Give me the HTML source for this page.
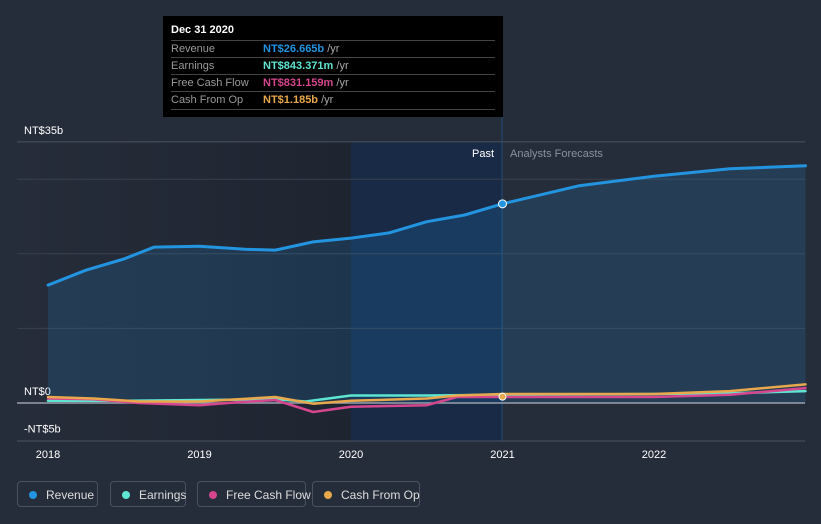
<!DOCTYPE html>
<html><head><meta charset="utf-8"><style>
body{margin:0;background:#262d3a;font-family:"Liberation Sans",sans-serif;}
#wrap{position:relative;width:821px;height:524px;overflow:hidden;}
.tt{position:absolute;left:163px;top:16px;width:340px;height:101px;background:#000;color:#fff;font-size:11px;}
.tt .r{position:absolute;left:8px;width:324px;border-top:1px solid #444;height:17px;line-height:17px;color:#999;}
.tt .v{position:absolute;left:92px;font-weight:bold;}
.lg{position:absolute;top:481px;height:26px;border:1px solid #4a5261;border-radius:4px;color:#ddd;font-size:12px;line-height:26px;box-sizing:border-box;padding-left:28px;white-space:nowrap;}
.lg i{position:absolute;left:11px;top:9px;width:8px;height:8px;border-radius:50%;}
</style></head><body>
<div id="wrap">
<svg id="svg" width="821" height="524" style="position:absolute;left:0;top:0"></svg>
<div class="tt">
<div style="position:absolute;left:8px;top:8px;font-weight:bold;font-size:11px">Dec 31 2020</div>
<div class="r" style="top:24px">Revenue<span class="v" style="color:#2394e0">NT$26.665b <span style="color:#aaa;font-weight:normal">/yr</span></span></div>
<div class="r" style="top:41px">Earnings<span class="v" style="color:#5ee6d2">NT$843.371m <span style="color:#aaa;font-weight:normal">/yr</span></span></div>
<div class="r" style="top:58px">Free Cash Flow<span class="v" style="color:#d5468e">NT$831.159m <span style="color:#aaa;font-weight:normal">/yr</span></span></div>
<div class="r" style="top:75px;border-bottom:1px solid #444">Cash From Op<span class="v" style="color:#e8a84b">NT$1.185b <span style="color:#aaa;font-weight:normal">/yr</span></span></div>
</div>
<div class="lg" style="left:17px;width:81px"><i style="background:#2394e0"></i>Revenue</div>
<div class="lg" style="left:110px;width:76px"><i style="background:#5ee6d2"></i>Earnings</div>
<div class="lg" style="left:197px;width:109px"><i style="background:#d5468e"></i>Free Cash Flow</div>
<div class="lg" style="left:312px;width:108px"><i style="background:#e8a84b"></i>Cash From Op</div>
</div>
<script>
const revT=[2018,2018.25,2018.5,2018.7,2019,2019.3,2019.5,2019.75,2020,2020.25,2020.5,2020.75,2021,2021.5,2022,2022.5,2023];
const revV=[15.8,17.8,19.3,20.9,21.0,20.6,20.5,21.6,22.1,22.8,24.3,25.2,26.7,29.1,30.4,31.4,31.8];
const earnT=[2018,2018.5,2019,2019.5,2019.7,2020,2020.5,2021,2022,2022.5,2023];
const earnV=[0.3,0.3,0.4,0.5,0.2,1.0,1.0,1.1,1.2,1.3,1.6];
const fcfT=[2018,2018.3,2018.6,2019,2019.25,2019.5,2019.75,2020,2020.5,2020.7,2021,2022,2022.5,2023];
const fcfV=[0.6,0.5,0.0,-0.3,0.1,0.4,-1.2,-0.5,-0.3,0.8,0.8,0.8,1.1,2.0];
const cfoT=[2018,2018.3,2018.6,2019,2019.5,2019.75,2020,2020.5,2020.7,2021,2022,2022.5,2023];
const cfoV=[0.8,0.6,0.2,0.2,0.8,-0.1,0.3,0.6,1.0,1.2,1.2,1.6,2.5];
const yTicks=[35,0,-5];
const yLabels=["NT$35b","NT$0","-NT$5b"];
const xTicks=[2018,2019,2020,2021,2022];
const X=t=>48+(t-2018)*151.5, Y=v=>403-v*7.46;
const svg=document.getElementById('svg');const NS='http://www.w3.org/2000/svg';
function mk(tag,a,name){const e=document.createElementNS(NS,tag);for(const k in a)e.setAttribute(k,a[k]);


svg.appendChild(e);return e;}
const defs=mk('defs',{},'defs');
defs.innerHTML='<linearGradient id="pg" x1="0" x2="1"><stop offset="0" stop-color="#262d3a"/><stop offset="1" stop-color="#1e2430"/></linearGradient>';
mk('rect',{x:17,y:142,width:334,height:299,fill:'url(#pg)'},'past-bg');
mk('rect',{x:351,y:142,width:151,height:299,fill:'#182a45'},'highlight-region');
mk('line',{x1:502,y1:117,x2:502,y2:441,stroke:'#1f4a7a','stroke-width':1},'cursor-line');
for(let v=10;v<=30;v+=10)mk('line',{x1:17,x2:805,y1:Y(v),y2:Y(v),stroke:'#38404e'},'gridline');
mk('line',{x1:17,x2:805,y1:Y(35),y2:Y(35),stroke:'#4a5261'},'top-line');
mk('line',{x1:17,x2:805,y1:441,y2:441,stroke:'#4a5261'},'x-axis-line');
yTicks.forEach((v,i)=>{const t=mk('text',{x:24,y:Y(v)-8,fill:'#fff','font-size':11},'y-tick-label');t.textContent=yLabels[i];});
xTicks.forEach(v=>{const t=mk('text',{x:X(v),y:458,fill:'#fff','font-size':11,'text-anchor':'middle'},'x-tick-label');t.textContent=v;});
let t1=mk('text',{x:494,y:157,fill:'#fff','font-size':11,'text-anchor':'end'},'past-label');t1.textContent='Past';
let t2=mk('text',{x:510,y:157,fill:'#8a919e','font-size':11},'forecast-label');t2.textContent='Analysts Forecasts';
const pts=(T,V)=>T.map((t,i)=>X(t).toFixed(1)+','+Y(V[i]).toFixed(1));
const rp=pts(revT,revV);
mk('path',{d:'M'+X(revT[0])+','+Y(0)+' L'+rp.join(' L')+' L'+X(revT[revT.length-1])+','+Y(0)+'Z',fill:'#2394e0','fill-opacity':0.17},'revenue-area');
mk('line',{x1:17,x2:805,y1:Y(0),y2:Y(0),stroke:'#9aa0aa','stroke-width':1.5},'zero-line');
[[earnT,earnV,'#5ee6d2','earnings-line'],[fcfT,fcfV,'#d5468e','free-cash-flow-line'],[cfoT,cfoV,'#e8a84b','cash-from-op-line'],[revT,revV,'#2394e0','revenue-line']].forEach(s=>{
mk('polyline',{points:pts(s[0],s[1]).join(' '),fill:'none',stroke:s[2],'stroke-width':s[3]=='revenue-line'?3:2.5,'stroke-linejoin':'round','stroke-linecap':'round'},s[3]);});
mk('circle',{cx:X(2021),cy:Y(26.7),r:4,fill:'#2394e0',stroke:'#fff','stroke-width':1},'revenue-marker');
mk('circle',{cx:X(2021),cy:Y(0.85),r:3.5,fill:'#e8a84b',stroke:'#fff','stroke-width':1},'cfo-marker');
</script>
</body></html>
